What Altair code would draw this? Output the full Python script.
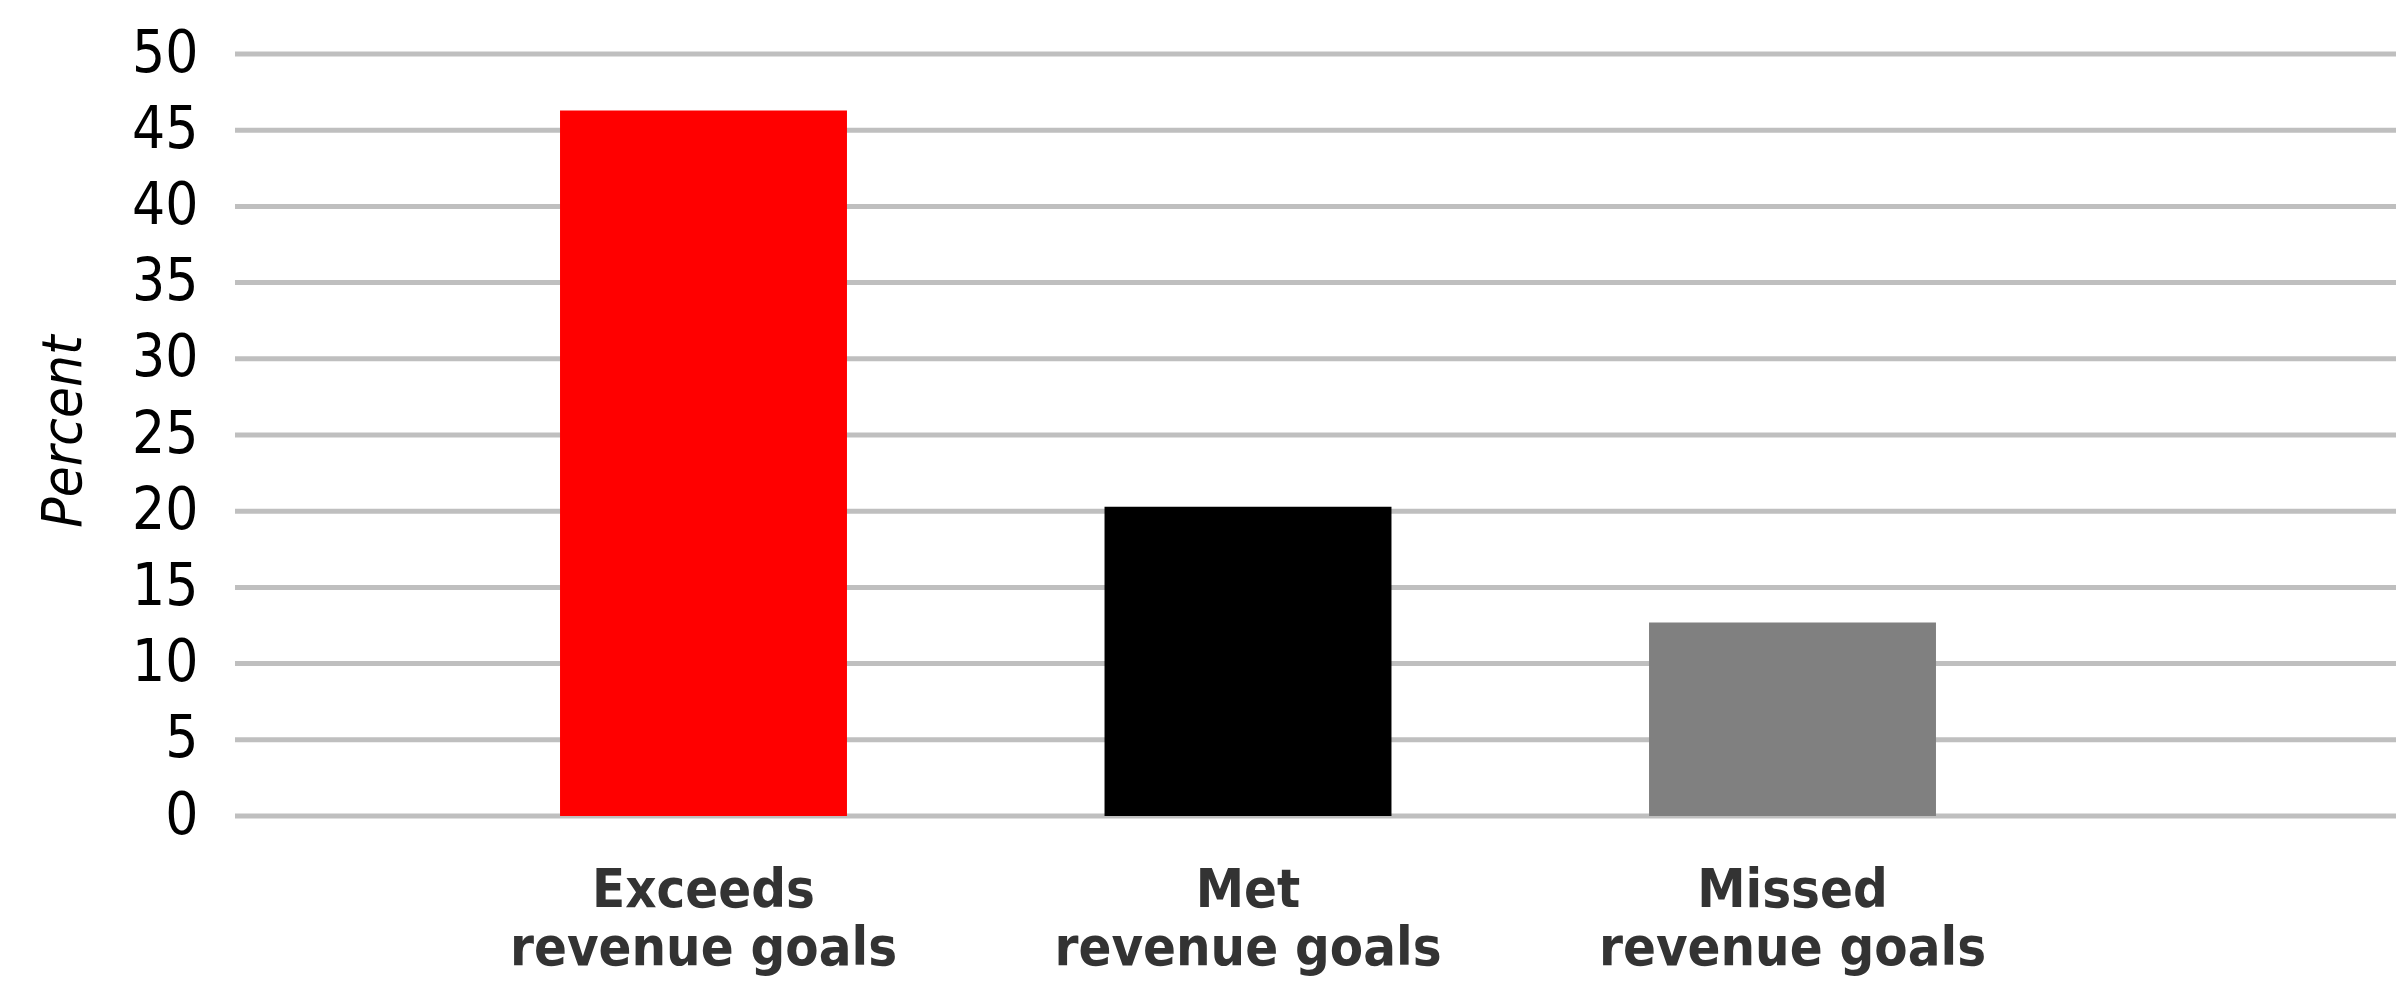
import altair as alt
import pandas as pd

categories = ["Exceeds\nrevenue goals", "Met\nrevenue goals", "Missed\nrevenue goals"]
values = [46.3, 20.3, 12.7]
colors = ["#ff0000", "#000000", "#808080"]
y_ticks = [0, 5, 10, 15, 20, 25, 30, 35, 40, 45, 50]

df = pd.DataFrame({"category": categories, "value": values, "color": colors})
grid_df = pd.DataFrame({"tick": y_ticks})

FONT = "'DejaVu Sans Condensed', Roboto, sans-serif"
W, H = 2161, 762

y_scale = alt.Scale(domain=[0, 50], nice=False)
y_axis = alt.Axis(
    title="Percent",
    values=y_ticks,
    titleFont=FONT,
    titleFontSize=56,
    titleFontWeight="normal",
    titleFontStyle="italic",
    titleColor="#000000",
    titleX=-172,
    titleY=377,
    titleAngle=270,
    titleAlign="center",
    titleBaseline="middle",
    labelFont=FONT,
    labelFontSize=58,
    labelColor="#000000",
    labelPadding=37,
    domain=False,
    ticks=False,
    grid=False,
)

grid = alt.Chart(grid_df).mark_rule(color="#bfbfbf", strokeWidth=5).encode(
    y=alt.Y("tick:Q", scale=y_scale, axis=y_axis),
    x=alt.value(0),
    x2=alt.value(W),
)

bars = alt.Chart(df).mark_bar().encode(
    x=alt.X(
        "category:N",
        sort=None,
        scale=alt.Scale(paddingInner=0.473, paddingOuter=0.2365, range=[196.25, 1829.75]),
        axis=alt.Axis(
            title=None,
            labelAngle=0,
            labelExpr="split(datum.label, '\\n')",
            labelFont=FONT,
            labelFontSize=54,
            labelFontWeight="bold",
            labelColor="#333333",
            labelLineHeight=58,
            labelPadding=47,
            labelBaseline="top",
            labelLimit=0,
            domain=False,
            ticks=False,
            grid=False,
        ),
    ),
    y=alt.Y("value:Q", scale=y_scale, axis=y_axis),
    color=alt.Color("color:N", scale=None, legend=None),
)

chart = alt.layer(grid, bars).properties(
    width=W,
    height=H,
    autosize=alt.AutoSizeParams(type="none"),
    padding={"left": 235, "top": 54, "right": 12, "bottom": 169},
    background="#ffffff",
).configure_view(stroke=None)

chart.save("out.html", embed_options={"renderer": "svg", "actions": False})
